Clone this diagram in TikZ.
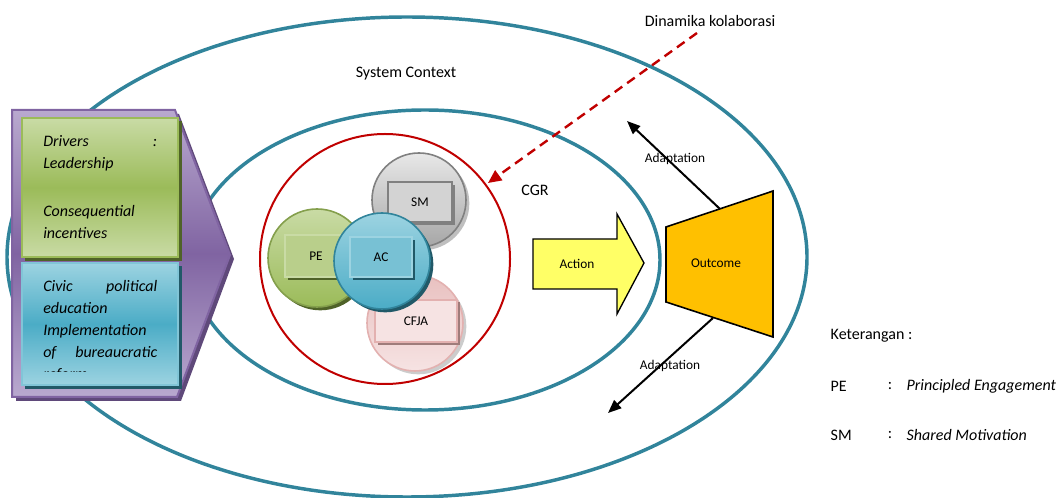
\documentclass[tikz,border=0pt]{standalone}
\usepackage{fontspec}
\setmainfont{Carlito}
\usetikzlibrary{arrows.meta,shadows}

\definecolor{ringteal}{HTML}{31849B}
\definecolor{cgrred}{HTML}{C00000}
\definecolor{purlight}{HTML}{B9A9CF}
\definecolor{purdark}{HTML}{8064A2}
\definecolor{purshadow}{HTML}{5F497A}
\definecolor{grnlight}{HTML}{C9DBA5}
\definecolor{grnmid}{HTML}{9BBB59}
\definecolor{grnshadow}{HTML}{4F6228}
\definecolor{bluelight}{HTML}{9CD3E1}
\definecolor{bluemid}{HTML}{4BACC6}
\definecolor{blueshadow}{HTML}{215968}
\definecolor{graylight}{HTML}{E8E8E8}
\definecolor{graymid}{HTML}{A6A6A6}
\definecolor{pinklight}{HTML}{F6E3E3}
\definecolor{pinkmid}{HTML}{E3B1B0}
\definecolor{actyellow}{HTML}{FFFF66}
\definecolor{outorange}{HTML}{FFC000}

\tikzset{
  ring/.style={draw=ringteal, line width=2.6pt},
  ball/.style={circle, inner sep=0pt, line width=1.2pt},
  tag/.style={rectangle, line width=1.5pt, font=\fontsize{10}{12}\selectfont},
  adapt/.style={-{Triangle[length=10pt,width=8pt]}, line width=1.5pt},
  small/.style={font=\fontsize{10}{12}\selectfont},
  boxtext/.style={anchor=north west, inner sep=0pt, text width=85.5pt, align=justify,
    font=\itshape\fontsize{12}{16.5}\selectfont},
}

\begin{document}
\begin{tikzpicture}[x=0.75pt, y=-0.75pt, font=\fontsize{12}{14}\selectfont]
\useasboundingbox (0,0) rectangle (1056,498);

% system context and CGR rings
\draw[ring] (407,257) ellipse (400 and 240);
\draw[ring] (425,260) ellipse (235 and 150);
\draw[cgrred, line width=1.5pt] (385,259) circle (125);

\node (context) at (406,74) {System Context};
\node (cgr) at (535,190) {CGR};
\node (dinamika) at (710,21) {Dinamika kolaborasi};

% drivers
\fill[purshadow] (16,114) -- (179,114) -- (234,259) -- (181,401) -- (16,401) -- cycle;
\draw[purdark, line width=1.5pt, top color=purlight, bottom color=purlight, middle color=purdark]
  (12,110) -- (175,110) -- (230,255) -- (177,397) -- (12,397) -- cycle;
\fill[grnshadow] (25,121) rectangle (182,261);
\draw[grnmid, line width=1.5pt, top color=grnlight, bottom color=grnlight, middle color=grnmid]
  (22,118) rectangle (178,257);
\fill[blueshadow] (25,266) rectangle (182,389);
\draw[bluemid!70, line width=1.5pt, top color=bluelight, bottom color=bluelight, middle color=bluemid]
  (22,263) rectangle (178,385);
\node[boxtext] (leadership) at (43,135) {Drivers\hfill:\\Leadership\\[20pt]Consequential\\incentives};
\begin{scope}
  \clip (22,263) rectangle (178,371.5);
  \node[boxtext] (reform) at (43,280) {Civic\hfill political\\education\\Implementation\\of\hfill bureaucratic\\reform};
\end{scope}

% collaboration dynamics
\node[ball, minimum size=70.5pt, draw=gray, top color=graylight, bottom color=graymid,
  drop shadow={shadow xshift=2.5pt, shadow yshift=-2.5pt, fill=black!25, opacity=1}] (smball) at (419,200) {};
\node[tag, draw=gray, fill=graylight!80!gray, minimum width=48pt, minimum height=30pt,
  drop shadow={shadow xshift=2pt, shadow yshift=-2pt, fill=gray, opacity=1}] (sm) at (420,202) {SM};
\node[ball, minimum size=72pt, draw=pinkmid, top color=pinkmid!80, bottom color=pinklight,
  drop shadow={shadow xshift=2.5pt, shadow yshift=-2.5pt, fill=black!20, opacity=1}] (cfjaball) at (415,323) {};
\node[tag, draw=pinkmid, fill=pinklight, minimum width=61.5pt, minimum height=32pt,
  drop shadow={shadow xshift=2pt, shadow yshift=-2pt, fill=pinkmid!70!black, opacity=1}] (cfja) at (416,321) {CFJA};
\node[ball, minimum size=73.5pt, draw=grnmid!85!black, top color=grnlight, bottom color=grnmid,
  drop shadow={shadow xshift=2.5pt, shadow yshift=-2.5pt, fill=grnshadow, opacity=1}] (peball) at (317,258) {};
\node[tag, draw=grnlight, fill=grnmid!70!white, minimum width=46.5pt, minimum height=32pt,
  drop shadow={shadow xshift=2pt, shadow yshift=-2pt, fill=grnshadow, opacity=1}] (pe) at (316,256) {PE};
\node[ball, minimum size=72pt, draw=ringteal, top color=bluelight, bottom color=bluemid,
  drop shadow={shadow xshift=2.5pt, shadow yshift=-2.5pt, fill=blueshadow, opacity=1}] (acball) at (382,261) {};
\node[tag, draw=bluelight, fill=bluemid!75!white, minimum width=46.5pt, minimum height=30pt,
  drop shadow={shadow xshift=2pt, shadow yshift=-2pt, fill=blueshadow, opacity=1}] (ac) at (381,257) {AC};

% action and outcome
\coordinate (otop) at (720,209);
\coordinate (obot) at (713,318);
\coordinate (adaptup) at (627,121);
\coordinate (adaptdown) at (608,413);
\draw[adapt] (otop) -- (adaptup);
\draw[adapt] (obot) -- (adaptdown);
\node[small] (adapt1) at (675,159) {Adaptation};
\node[small] (adapt2) at (670,366) {Adaptation};

\filldraw[fill=actyellow, draw=black, line width=1pt]
  (533,239) -- (617,239) -- (617,214) -- (644,263) -- (617,314) -- (617,289) -- (533,289) -- cycle;
\node[small] (action) at (577,264) {Action};
\filldraw[fill=outorange, draw=black, line width=1.2pt]
  (666,227) -- (773,191) -- (773,337) -- (666,302) -- cycle;
\node[small] (outcome) at (716,263) {Outcome};

% dynamics pointer
\coordinate (dinstart) at (697,33);
\coordinate (dinend) at (488,183);
\draw[cgrred, line width=1.8pt, dash pattern=on 7pt off 4.5pt, -{Triangle[length=10pt,width=9pt]}]
  (dinstart) -- (dinend);

% legend
\node[anchor=west] (keterangan) at (826,336) {Keterangan :};
\node[anchor=west] (pekey) at (826,386) {PE};
\node (pecolon) at (890,386) {:};
\node[anchor=west] (pedesc) at (902,386) {\itshape Principled Engagement};
\node[anchor=west] (smkey) at (826,435) {SM};
\node (smcolon) at (890,435) {:};
\node[anchor=west] (smdesc) at (902,435) {\itshape Shared Motivation};
\end{tikzpicture}
\end{document}
